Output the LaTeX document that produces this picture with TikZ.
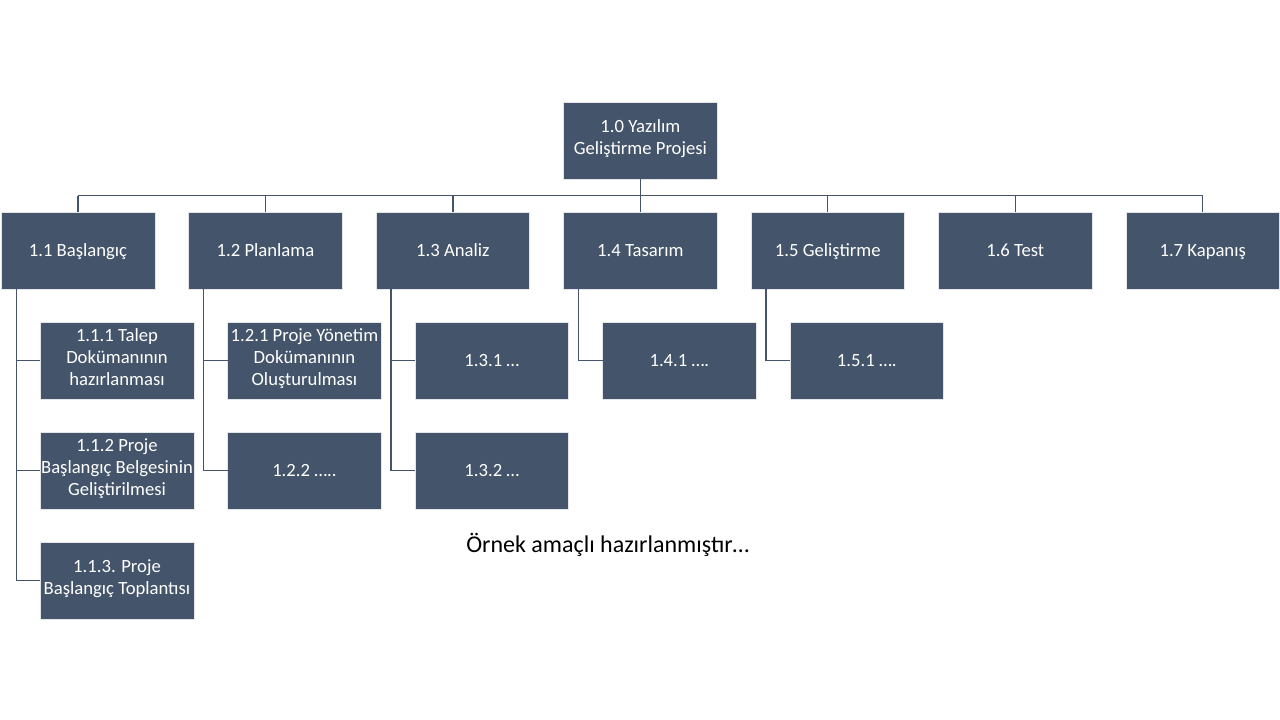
\documentclass[tikz,border=0pt]{standalone}
\usepackage{fontspec}
\setmainfont{Carlito}
\definecolor{boxc}{HTML}{44546A}
\definecolor{linec}{HTML}{44546A}
\tikzset{
  wbs/.style={draw=white!85!boxc, line width=0.4pt, fill=boxc, text=white,
    minimum width=115.2pt, minimum height=58pt, inner sep=0pt, outer sep=0pt,
    align=center, font=\fontsize{14}{16.3}\selectfont,
    execute at begin node={\rule{0pt}{14.4pt}}, execute at end node={\strut}},
  conn/.style={draw=linec, line width=1pt}
}
\begin{document}
\begin{tikzpicture}[x=0.75pt,y=-0.75pt]
\useasboundingbox[fill=white] (0,0) rectangle (1280,720);
% root
\node[wbs] (root) at (640.35,140.5) {1.0 Yazılım\\Geliştirme Projesi};
% level 1
\node[wbs] (b11) at (78,250.5) {1.1 Başlangıç};
\node[wbs] (b12) at (265.45,250.5) {1.2 Planlama};
\node[wbs] (b13) at (452.9,250.5) {1.3 Analiz};
\node[wbs] (b14) at (640.35,250.5) {1.4 Tasarım};
\node[wbs] (b15) at (827.8,250.5) {1.5 Geliştirme};
\node[wbs] (b16) at (1015.25,250.5) {1.6 Test};
\node[wbs] (b17) at (1202.7,250.5) {1.7 Kapanış};
% level 2
\node[wbs] (b111) at (117,360.5) {1.1.1 Talep\\Dokümanının\\hazırlanması};
\node[wbs] (b112) at (117,470.5) {1.1.2 Proje\\Başlangıç Belgesinin\\Geliştirilmesi};
\node[wbs] (b113) at (117,580.5) {1.1.3. Proje\\Başlangıç Toplantısı};
\node[wbs] (b121) at (304.45,360.5) {1.2.1 Proje Yönetim\\Dokümanının\\Oluşturulması};
\node[wbs] (b122) at (304.45,470.5) {1.2.2 …..};
\node[wbs] (b131) at (491.9,360.5) {1.3.1 …};
\node[wbs] (b132) at (491.9,470.5) {1.3.2 …};
\node[wbs] (b141) at (679.35,360.5) {1.4.1 ….};
\node[wbs] (b151) at (866.8,360.5) {1.5.1 ….};
% bus
\coordinate (bus) at (640.35,195.7);
\draw[conn] (root.south) -- (root.south |- bus);
\draw[conn] (b11.north |- bus) -- (b17.north |- bus);
\foreach \n in {b11,b12,b13,b14,b15,b16,b17}{
  \draw[conn] (\n.north |- bus) -- (\n.north);
}
% child connectors
\draw[conn] ([xshift=11.25pt]b11.south west) |- (b111.west);
\draw[conn] ([xshift=11.25pt]b11.south west) |- (b112.west);
\draw[conn] ([xshift=11.25pt]b11.south west) |- (b113.west);
\draw[conn] ([xshift=11.25pt]b12.south west) |- (b121.west);
\draw[conn] ([xshift=11.25pt]b12.south west) |- (b122.west);
\draw[conn] ([xshift=11.25pt]b13.south west) |- (b131.west);
\draw[conn] ([xshift=11.25pt]b13.south west) |- (b132.west);
\draw[conn] ([xshift=11.25pt]b14.south west) |- (b141.west);
\draw[conn] ([xshift=11.25pt]b15.south west) |- (b151.west);
% note
\node[anchor=base west, inner sep=0pt, font=\fontsize{18}{21.6}\selectfont, text=black] (note) at (466,552) {Örnek amaçlı hazırlanmıştır…};
\end{tikzpicture}
\end{document}
